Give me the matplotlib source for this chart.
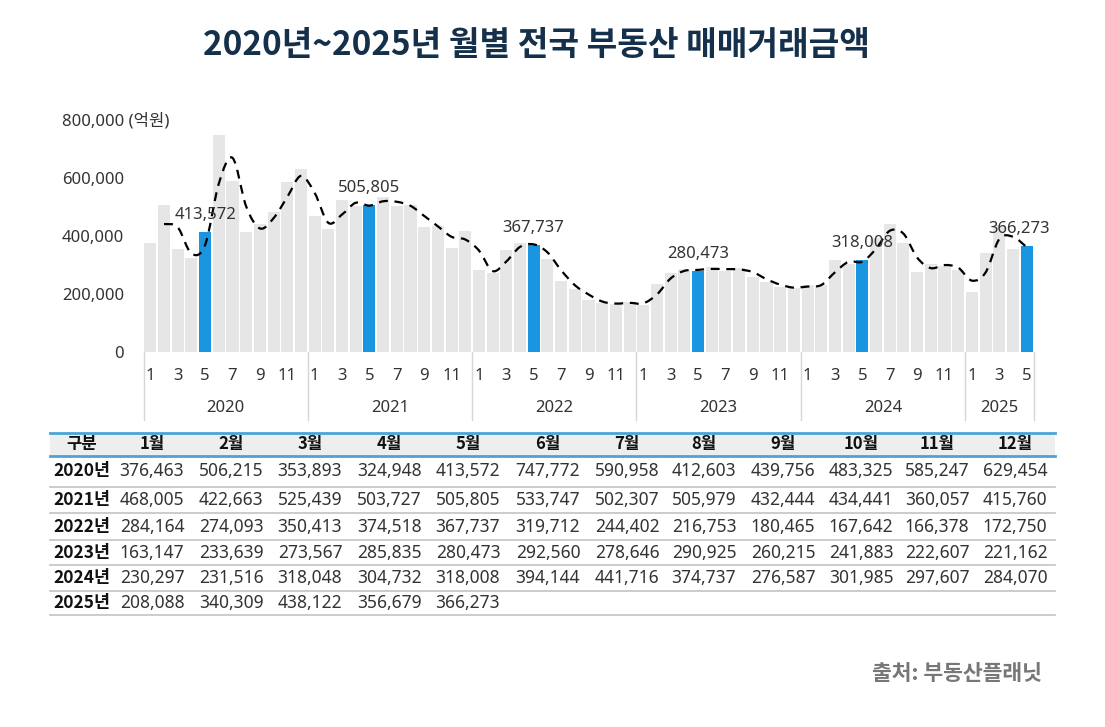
import numpy as np
import matplotlib
matplotlib.use('Agg')
import matplotlib.pyplot as plt
from matplotlib.path import Path
from matplotlib.patches import PathPatch, Rectangle
from matplotlib.lines import Line2D
import matplotlib.transforms as mtrans

plt.rcParams['font.family'] = ['Noto Sans', 'Noto Sans CJK KR', 'DejaVu Sans']
BOLD_FAM = ['Noto Sans CJK KR', 'DejaVu Sans']

# ---------------- data ----------------
years = [2020, 2021, 2022, 2023, 2024, 2025]
month_headers = ['1월', '2월', '3월', '4월', '5월', '6월', '7월', '8월', '9월', '10월', '11월', '12월']
v2020 = [376463, 506215, 353893, 324948, 413572, 747772, 590958, 412603, 439756, 483325, 585247, 629454]
v2021 = [468005, 422663, 525439, 503727, 505805, 533747, 502307, 505979, 432444, 434441, 360057, 415760]
v2022 = [284164, 274093, 350413, 374518, 367737, 319712, 244402, 216753, 180465, 167642, 166378, 172750]
v2023 = [163147, 233639, 273567, 285835, 280473, 292560, 278646, 290925, 260215, 241883, 222607, 221162]
v2024 = [230297, 231516, 318048, 304732, 318008, 394144, 441716, 374737, 276587, 301985, 297607, 284070]
v2025 = [208088, 340309, 438122, 356679, 366273]
yearly = [v2020, v2021, v2022, v2023, v2024, v2025]
highlight_month = 5
y_ticks = [0, 200000, 400000, 600000, 800000]
title = '2020년~2025년 월별 전국 부동산 매매거래금액'
source = '출처: 부동산플래닛'
unit = '(억원)'

# ---------------- derived ----------------
values, months, year_of = [], [], []
for y, vals in zip(years, yearly):
    for m, v in enumerate(vals, start=1):
        values.append(v)
        months.append(m)
        year_of.append(y)
values = np.array(values, dtype=float)
n = len(values)
xs = np.arange(n)

W, H = 1105, 727
fig = plt.figure(figsize=(W / 100, H / 100), dpi=100)
fig.patch.set_facecolor('white')


def fx(px):
    return px / W


def fy(py):
    return 1 - py / H


ax_l, ax_r, ax_t, ax_b = 143.5, 1033.5, 120, 352
ax = fig.add_axes([fx(ax_l), fy(ax_b), fx(ax_r) - fx(ax_l), fy(ax_t) - fy(ax_b)])
ax.set_facecolor('none')

GRAY_BAR = '#e6e6e6'
BLUE = '#1a95e0'
TXT = '#333333'

colors = [BLUE if m == highlight_month else GRAY_BAR for m in months]
ax.bar(xs, values, width=0.88, color=colors, linewidth=0, zorder=1)

ax.set_xlim(-0.5, n - 0.5)
ax.set_ylim(y_ticks[0], y_ticks[-1])
for s in ax.spines.values():
    s.set_visible(False)
ax.set_xticks([])
ax.set_yticks(y_ticks[:-1])
ax.set_yticklabels([f'{t:,}' for t in y_ticks[:-1]], fontsize=12, color=TXT)
ax.tick_params(axis='y', length=0, pad=14)
fig.text(fx(62), fy(121), f'{y_ticks[-1]:,} {unit}', fontsize=12, color=TXT,
         ha='left', va='center')

# 2-period moving average, drawn as a smoothed dashed curve
ma_x = xs[1:].astype(float)
ma_y = (values[1:] + values[:-1]) / 2
P = np.column_stack([ma_x, ma_y])
Pext = np.vstack([P[0], P, P[-1]])
verts = [tuple(P[0])]
codes = [Path.MOVETO]
for i in range(len(P) - 1):
    p0, p1, p2, p3 = Pext[i], Pext[i + 1], Pext[i + 2], Pext[i + 3]
    c1 = p1 + (p2 - p0) / 6
    c2 = p2 - (p3 - p1) / 6
    verts += [tuple(c1), tuple(c2), tuple(p2)]
    codes += [Path.CURVE4] * 3
curve = PathPatch(Path(verts, codes), facecolor='none', edgecolor='black',
                  linewidth=1.6, linestyle=(0, (4, 3)), zorder=3)
ax.add_patch(curve)

# value labels above highlighted bars
label_dx = {2025: -8}
for i in xs:
    if months[i] == highlight_month:
        ax.annotate(f'{int(values[i]):,}', xy=(i, values[i]),
                    xytext=(label_dx.get(year_of[i], 0), 17), textcoords='offset pixels',
                    ha='center', va='center', fontsize=12, color=TXT, zorder=4)

# two-level category axis
bt = mtrans.blended_transform_factory(ax.transData, fig.transFigure)
for i in xs:
    if months[i] % 2 == 1:
        fig.text(i, fy(376), str(months[i]), transform=bt, ha='center', va='center',
                 fontsize=12, color=TXT)
start = 0
bounds = [-0.5]
for y, vals in zip(years, yearly):
    end = start + len(vals)
    fig.text((start + end - 1) / 2, fy(408), str(y), transform=bt, ha='center',
             va='center', fontsize=12, color=TXT)
    bounds.append(end - 0.5)
    start = end
for b in bounds:
    fig.add_artist(Line2D([b, b], [fy(352), fy(420)], transform=bt, color='#d6d6d6',
                          linewidth=1.0))

# ---------------- title ----------------
fig.text(fx(536), fy(46), title, ha='center', va='center', fontsize=24,
         fontweight='bold', color='#14304a', family=BOLD_FAM)

# ---------------- table ----------------
tl, tr = 50, 1055
head_top, head_bot = 433, 456
row_lines = [487, 513, 540, 565, 591, 615]
row_centers = [471, 500, 527, 553, 578, 603]
col_first = 82
col_centers = [152, 231, 310, 389, 468, 548, 627, 704, 783, 861, 937, 1015]

fig.add_artist(Rectangle((fx(tl), fy(head_bot)), fx(tr) - fx(tl), fy(head_top) - fy(head_bot),
                         transform=fig.transFigure, facecolor='#eeeeee', edgecolor='none'))
for yy in (head_top, head_bot):
    fig.add_artist(Line2D([fx(tl), fx(tr)], [fy(yy), fy(yy)], transform=fig.transFigure,
                          color='#4ba3d9', linewidth=2.0))
for yy in row_lines:
    fig.add_artist(Line2D([fx(tl), fx(tr)], [fy(yy), fy(yy)], transform=fig.transFigure,
                          color='#c4c4c4', linewidth=1.2))

hc = (head_top + head_bot) / 2
fig.text(fx(col_first), fy(hc), '구분', ha='center', va='center', fontsize=12,
         fontweight='bold', color='#111111', family=BOLD_FAM)
for cx, h in zip(col_centers, month_headers):
    fig.text(fx(cx), fy(hc), h, ha='center', va='center', fontsize=12,
             fontweight='bold', color='#111111', family=BOLD_FAM)
for rc, y, vals in zip(row_centers, years, yearly):
    fig.text(fx(col_first), fy(rc), f'{y}년', ha='center', va='center', fontsize=12.5,
             fontweight='bold', color='#111111', family=BOLD_FAM)
    for cx, v in zip(col_centers, vals):
        fig.text(fx(cx), fy(rc), f'{v:,}', ha='center', va='center', fontsize=12.5,
                 color=TXT)

# ---------------- source ----------------
fig.text(fx(1042), fy(674), source, ha='right', va='center', fontsize=15.5,
         fontweight='bold', color='#777777', family=BOLD_FAM)

fig.savefig('out.png', dpi=100, facecolor=fig.get_facecolor())
